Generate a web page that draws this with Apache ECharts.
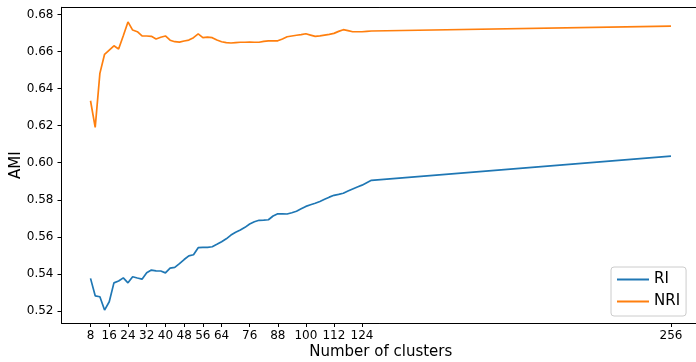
<!DOCTYPE html>
<html>
<head>
<meta charset="utf-8">
<script src="https://cdn.jsdelivr.net/npm/echarts@6/dist/echarts.min.js"></script>
<style>
  html, body { margin: 0; padding: 0; background: #ffffff; }
  #chart { width: 696px; height: 362px; }
</style>
</head>
<body>
<div id="chart"></div>
<script>
// Number of clusters evaluated
const clusters = [
  8, 10, 12, 14, 16, 18, 20, 22, 24, 26,
  28, 30, 32, 34, 36, 38, 40, 42, 44, 46,
  48, 50, 52, 54, 56, 58, 60, 62, 64, 66,
  68, 70, 72, 74, 76, 78, 80, 82, 84, 86,
  88, 90, 92, 94, 96, 98, 100, 102, 104, 106,
  108, 110, 112, 114, 116, 118, 120, 122, 124, 126,
  128, 256
];

// AMI for the RI method
const riValues = [
  0.5375, 0.5281, 0.5276, 0.5204, 0.5249, 0.5351, 0.5361, 0.5378, 0.5351, 0.5384,
  0.5377, 0.5371, 0.5405, 0.5420, 0.5416, 0.5415, 0.5405, 0.5431, 0.5435, 0.5455,
  0.5477, 0.5497, 0.5503, 0.5541, 0.5543, 0.5543, 0.5546, 0.5559, 0.5573, 0.5589,
  0.5609, 0.5624, 0.5636, 0.5651, 0.5669, 0.5681, 0.5689, 0.5690, 0.5692, 0.5712,
  0.5724, 0.5724, 0.5723, 0.5730, 0.5738, 0.5751, 0.5764, 0.5773, 0.5781, 0.5791,
  0.5803, 0.5814, 0.5824, 0.5829, 0.5835, 0.5847, 0.5858, 0.5869, 0.5879, 0.5892,
  0.5905, 0.6036
];

// AMI for the NRI method
const nriValues = [
  0.6335, 0.6191, 0.6483, 0.6586, 0.6609, 0.6632, 0.6615, 0.6686, 0.6761, 0.6717,
  0.6708, 0.6685, 0.6685, 0.6683, 0.6669, 0.6678, 0.6685, 0.6662, 0.6654, 0.6652,
  0.6658, 0.6663, 0.6676, 0.6696, 0.6676, 0.6679, 0.6676, 0.6663, 0.6654, 0.6649,
  0.6647, 0.6649, 0.6651, 0.6651, 0.6652, 0.6651, 0.6651, 0.6656, 0.6659, 0.6659,
  0.6659, 0.6669, 0.6681, 0.6685, 0.6689, 0.6692, 0.6697, 0.6690, 0.6683, 0.6686,
  0.6690, 0.6694, 0.6699, 0.6710, 0.6719, 0.6714, 0.6708, 0.6708, 0.6708, 0.6710,
  0.6712, 0.6738
];

const xTicks = [8, 16, 24, 32, 40, 48, 56, 64, 76, 88, 100, 112, 124, 256];
const yTicks = [0.52, 0.54, 0.56, 0.58, 0.60, 0.62, 0.64, 0.66, 0.68];

const FONT = 'DejaVu Sans';
const pairs = vals => clusters.map((c, i) => [c, vals[i]]);

const chart = echarts.init(document.getElementById('chart'), null, { renderer: 'canvas' });

chart.setOption({
  animation: false,
  backgroundColor: '#ffffff',
  textStyle: { fontFamily: FONT },
  grid: {
    left: 61.5, right: -4, top: 7.3, bottom: 39,
    containLabel: false,
    outerBoundsMode: 'none'
  },
  xAxis: [
    {
      type: 'value',
      position: 'bottom',
      min: -4.4,
      max: 268.4,
      name: 'Number of clusters',
      nameLocation: 'middle',
      nameGap: 22,
      nameMoveOverlap: false,
      nameTextStyle: { fontFamily: FONT, fontSize: 15, color: '#000', verticalAlign: 'top' },
      axisLine: { show: true, onZero: false, lineStyle: { color: '#000', width: 1 } },
      axisTick: { show: true, inside: false, length: 4, customValues: xTicks, lineStyle: { color: '#000', width: 1 } },
      axisLabel: {
        customValues: xTicks,
        margin: 7,
        fontFamily: FONT,
        fontSize: 12,
        color: '#000',
        hideOverlap: false
      },
      splitLine: { show: false }
    },
    {
      type: 'value',
      position: 'top',
      min: -4.4,
      max: 268.4,
      axisLine: { show: true, onZero: false, lineStyle: { color: '#000', width: 1 } },
      axisTick: { show: false },
      axisLabel: { show: false },
      splitLine: { show: false }
    }
  ],
  yAxis: [
    {
      type: 'value',
      min: 0.5134,
      max: 0.684,
      name: 'AMI',
      nameLocation: 'middle',
      nameGap: 38,
      nameRotate: 90,
      nameMoveOverlap: false,
      nameTextStyle: { fontFamily: FONT, fontSize: 15, color: '#000' },
      axisLine: { show: true, onZero: false, lineStyle: { color: '#000', width: 1 } },
      axisTick: { show: true, inside: false, length: 4, customValues: yTicks, lineStyle: { color: '#000', width: 1 } },
      axisLabel: {
        customValues: yTicks,
        margin: 8,
        fontFamily: FONT,
        fontSize: 12,
        color: '#000',
        formatter: v => v.toFixed(2)
      },
      splitLine: { show: false }
    }
  ],
  legend: {
    orient: 'vertical',
    left: 611,
    top: 267,
    padding: [5, 6, 7, 6],
    itemGap: 7,
    itemWidth: 32,
    itemHeight: 2,
    itemTextGap: 11,
    icon: 'rect',
    backgroundColor: '#ffffff',
    borderColor: '#cccccc',
    borderWidth: 1,
    borderRadius: 3,
    textStyle: { fontFamily: FONT, fontSize: 15, color: '#000', lineHeight: 15 },
    data: ['RI', 'NRI']
  },
  series: [
    {
      name: 'RI',
      type: 'line',
      data: pairs(riValues),
      showSymbol: false,
      symbol: 'none',
      color: '#1f77b4',
      lineStyle: { color: '#1f77b4', width: 1.7 }
    },
    {
      name: 'NRI',
      type: 'line',
      data: pairs(nriValues),
      showSymbol: false,
      symbol: 'none',
      color: '#ff7f0e',
      lineStyle: { color: '#ff7f0e', width: 1.7 }
    }
  ]
});
</script>
</body>
</html>
